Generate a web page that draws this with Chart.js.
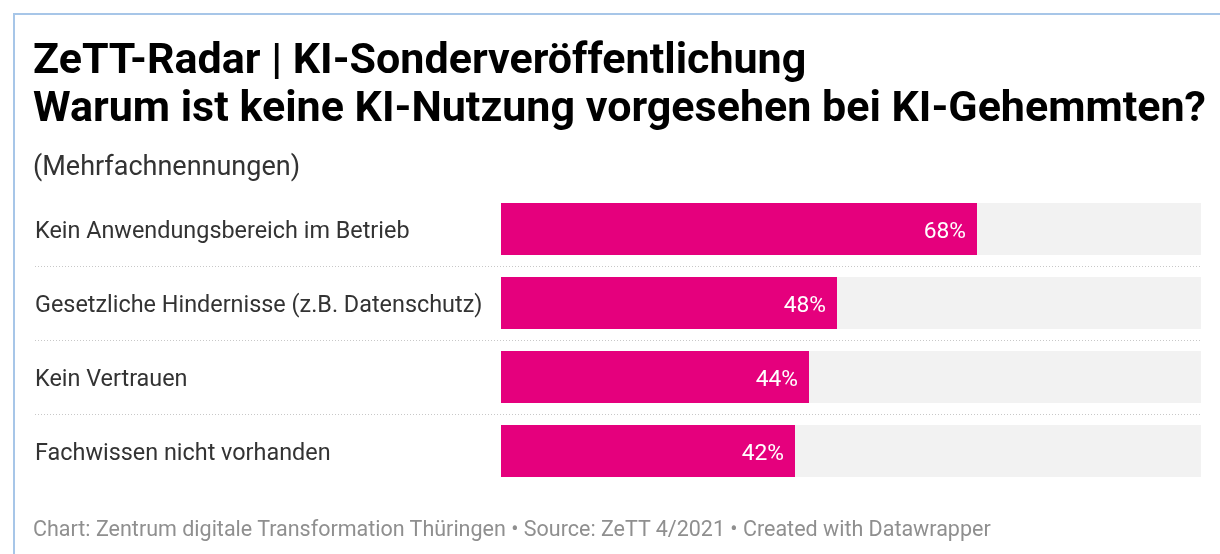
<!DOCTYPE html>
<html>
<head>
<meta charset="utf-8">
<script src="https://cdn.jsdelivr.net/npm/chart.js@4/dist/chart.umd.min.js"></script>
<style>
  html, body { margin: 0; padding: 0; background: #fff; }
  body { width: 1220px; height: 554px; position: relative; overflow: hidden; font-family: Roboto, "Noto Sans", sans-serif; }
  #frame { position: absolute; left: 13px; top: 13px; width: 1220px; height: 600px; border-left: 2px solid #a7c6e8; border-top: 2px solid #a7c6e8; box-sizing: border-box; }
  #wrap { position: absolute; left: 0; top: 0; width: 1220px; height: 554px; }
  .t { position: absolute; left: 33px; white-space: nowrap; }
  #title { top: 34px; font-size: 43px; font-weight: 700; line-height: 48px; color: #000; }
  #sub { top: 151px; font-size: 27px; color: #333; line-height: 30px; }
  #foot { top: 517px; font-size: 21.5px; color: #8f8f8f; line-height: 24px; }
</style>
</head>
<body>
<div id="frame"></div>
<div id="wrap"><canvas id="c" width="1220" height="554"></canvas></div>
<div class="t" id="title">ZeTT-Radar | KI-Sonderveröffentlichung<br>Warum ist keine KI-Nutzung vorgesehen bei KI-Gehemmten?</div>
<div class="t" id="sub">(Mehrfachnennungen)</div>
<div class="t" id="foot">Chart: Zentrum digitale Transformation Thüringen • Source: ZeTT 4/2021 • Created with Datawrapper</div>
<script>
const categories = [
  "Kein Anwendungsbereich im Betrieb",
  "Gesetzliche Hindernisse (z.B. Datenschutz)",
  "Kein Vertrauen",
  "Fachwissen nicht vorhanden"
];
const values = [68, 48, 44, 42];
const trackMax = [100, 100, 100, 100];

const valueLabels = {
  id: 'valueLabels',
  afterDatasetsDraw(chart) {
    const ctx = chart.ctx;
    const meta = chart.getDatasetMeta(0);
    ctx.save();
    ctx.font = '22.8px Roboto, sans-serif';
    ctx.fillStyle = '#ffffff';
    ctx.textAlign = 'right';
    ctx.textBaseline = 'middle';
    meta.data.forEach((bar, i) => {
      ctx.fillText(values[i] + '%', bar.x - 11, bar.y + 3);
    });
    ctx.restore();
  }
};

const separators = {
  id: 'separators',
  beforeDatasetsDraw(chart) {
    const ctx = chart.ctx;
    const y = chart.scales.y;
    ctx.save();
    ctx.strokeStyle = '#c8c8c8';
    ctx.lineWidth = 1;
    ctx.setLineDash([1, 2]);
    for (let i = 0; i < categories.length - 1; i++) {
      const py = Math.round((y.getPixelForValue(i) + y.getPixelForValue(i + 1)) / 2) + 0.5;
      ctx.beginPath();
      ctx.moveTo(35, py);
      ctx.lineTo(chart.chartArea.right, py);
      ctx.stroke();
    }
    ctx.restore();
  }
};

new Chart(document.getElementById('c'), {
  type: 'bar',
  data: {
    labels: categories,
    datasets: [
      { data: values, backgroundColor: '#e5007d', grouped: false, barPercentage: 0.703, categoryPercentage: 1 },
      { data: trackMax, backgroundColor: '#f2f2f2', grouped: false, barPercentage: 0.703, categoryPercentage: 1 }
    ]
  },
  options: {
    indexAxis: 'y',
    responsive: false,
    animation: false,
    events: [],
    layout: { padding: { left: 35, right: 19, top: 192, bottom: 66 } },
    plugins: { legend: { display: false }, tooltip: { enabled: false }, title: { display: false } },
    scales: {
      x: { min: 0, max: 100, display: false },
      y: {
        grid: { display: false },
        border: { display: false },
        ticks: {
          crossAlign: 'far',
          padding: 0,
          labelOffset: 3,
          color: '#333333',
          font: { family: 'Roboto', size: 23.4 }
        },
        afterFit(scale) { scale.width = 466; }
      }
    }
  },
  plugins: [separators, valueLabels]
});
</script>
</body>
</html>
